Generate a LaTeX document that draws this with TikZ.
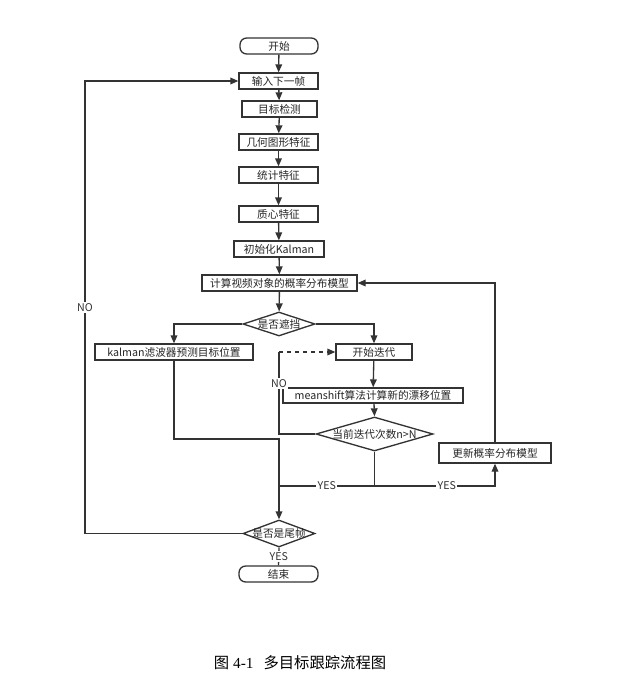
\documentclass[tikz,border=0pt]{standalone}
\usepackage{fontspec}
\setmainfont{Noto Sans CJK SC}
\newfontfamily\capfont{Liberation Serif}
\usetikzlibrary{arrows.meta,shapes.geometric}
\def\dtext#1{\makebox[0pt]{#1}}

\tikzset{
	box/.style={draw=black!80, line width=1pt, fill=white, minimum height=12pt, inner sep=0pt, font=\fontsize{8}{9}\selectfont, text=black!85},
	term/.style={box, rounded corners=5pt},
	decide/.style={box, diamond},
	flow/.style={draw=black!80, line width=1pt, -{Triangle[length=6pt,width=5pt]}},
	plain/.style={draw=black!80, line width=1pt},
	lab/.style={fill=white, inner sep=1pt, font=\fontsize{8}{9}\selectfont, text=black!80}
}

\begin{document}
\begin{tikzpicture}[x=0.75pt, y=-0.75pt]
		%%%%% START %%%%%
		\useasboundingbox (0,0) rectangle (628,688);
		
		\node[term, minimum width=58.5pt] (start) at (279,46) {开始};
		\node[box, minimum width=59.25pt] (input) at (278.5,81) {输入下一帧};
		\node[box, minimum width=56.25pt] (detect) at (279.5,109) {目标检测};
		\node[box, minimum width=59.25pt] (geom) at (278.5,142) {几何图形特征};
		\node[box, minimum width=59.25pt] (stat) at (278.5,175) {统计特征};
		\node[box, minimum width=59.25pt] (centroid) at (278.5,214) {质心特征};
		\node[box, minimum width=67.5pt] (initk) at (279,249) {初始化Kalman};
		\node[box, minimum width=116.25pt] (model) at (279.5,283) {计算视频对象的概率分布模型};
		\node[decide, minimum width=54pt, minimum height=18pt] (occl) at (279,324) {\dtext{是否遮挡}};
		\node[box, minimum width=118.5pt] (kalman) at (174,352) {kalman滤波器预测目标位置};
		\node[box, minimum width=57pt] (iter) at (374,352) {开始迭代};
		\node[box, minimum width=135pt, minimum height=11.25pt] (shift) at (373,395.5) {meanshift算法计算新的漂移位置};
		\node[decide, minimum width=87.75pt, minimum height=25.5pt] (count) at (374.5,434) {\dtext{当前迭代次数n>N}};
		\node[box, minimum width=84pt, minimum height=15pt] (update) at (495,453) {更新概率分布模型};
		\node[decide, minimum width=54pt, minimum height=20.25pt] (last) at (279,533.5) {\dtext{是否是尾帧}};
		\node[term, minimum width=59.25pt] (finish) at (278.5,574) {结束};
		
		\coordinate (loopc) at (85,81);
		\coordinate (noc) at (279,352);
		\coordinate (kjoin) at (279,439);
		\coordinate (yjoin) at (374.5,486);
		
		% main column
		\draw[flow] (start) -- (input);
		\draw[flow] (input) -- (detect);
		\draw[flow] (detect) -- (geom);
		\draw[flow] (geom) -- (stat);
		\draw[flow] (stat) -- (centroid);
		\draw[flow] (centroid) -- (initk);
		\draw[flow] (initk) -- (model);
		\draw[flow] (model) -- (occl);
		
		% branches
		\draw[flow] (occl.west) -| (kalman.north);
		\draw[flow] (occl.east) -| (iter.north);
		\draw[flow] (iter) -- (shift);
		\draw[flow] ([xshift=0.75pt]shift.south) -- (count.north);
		\draw[plain] (count.west) -| node[lab, pos=0.81] {NO} (noc);
		\draw[flow, dashed] (noc) -- (iter.west);
		\draw[plain] (count.south) -- (yjoin);
		\draw[flow] (yjoin) -| node[lab, pos=0.3] {YES} (update.south);
		\draw[plain] (yjoin) -- node[lab] {YES} (yjoin -| kjoin);
		\draw[flow] (update.north) |- (model.east);
		\draw[flow] (kalman.south) |- (kjoin) -- (last.north);
		
		% end and loop back
		\draw[plain] (last.south) -- node[lab] {YES} (finish.north);
		\draw[flow] (last.west) -| node[lab, pos=0.75] {NO} (loopc) -- (input.west);
		
		\node (caption) at (300,663) {\fontsize{11.5}{13}\selectfont 图\hspace{3pt}{\capfont 4-1}\hspace{7.5pt}多目标跟踪流程图};
		%%%%% END %%%%%
\end{tikzpicture}
\end{document}
